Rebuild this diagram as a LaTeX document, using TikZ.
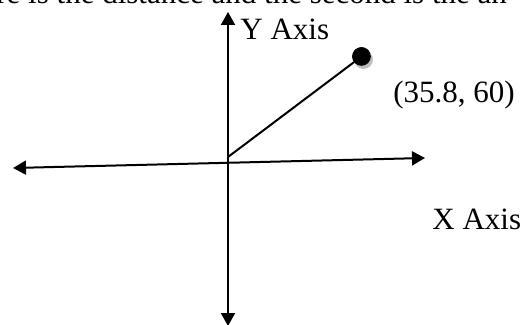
\documentclass[tikz,border=0pt]{standalone}
\usepackage{fontspec}
\setmainfont{Liberation Serif}
\usepackage{xcolor}
\usepackage{tikz}
\usetikzlibrary{arrows.meta,shadows}
\definecolor{inkblack}{HTML}{000000}
\definecolor{shadowgray}{HTML}{BDBDBD}

\begin{document}
\begin{tikzpicture}[x=0.5pt, y=-0.5pt,
  axis/.style={draw=inkblack, line width=1pt, {Triangle[length=6.5pt,width=7pt]}-{Triangle[length=6.5pt,width=7pt]}},
  axistext/.style={anchor=base west, inner sep=0pt, font=\fontsize{15.5}{18}\selectfont, text=inkblack},
  ptdot/.style={circle, fill=inkblack, inner sep=0pt, minimum size=9.3pt,
    drop shadow={shadow xshift=1pt, shadow yshift=-1.5pt, fill=shadowgray, opacity=1}}]
\useasboundingbox (0,0) rectangle (523,325);
\clip (0,0) rectangle (523,325);
% axes
\coordinate (xl) at (13,168);
\coordinate (xr) at (425,158);
\coordinate (yt) at (228,12);
\coordinate (yb) at (228,326);
\coordinate (o) at (228,157);
\draw[axis] (xl) -- (xr);
\draw[axis] (yb) -- (yt);
% point
\node[ptdot] (pt) at (361.5,56.5) {};
\draw[line width=1pt] (o) -- (pt.center);
\node[ptdot] at (pt) {};
% labels
\node[axistext] (toptext) at (-4,4) {re is the distance and the second is the an};
\node[axistext] (ylab) at (240,39.5) {Y Axis};
\node[axistext] (ptlab) at (393,103) {(35.8, 60)};
\node[axistext] (xlab) at (432,229) {X Axis};
\end{tikzpicture}
\end{document}
